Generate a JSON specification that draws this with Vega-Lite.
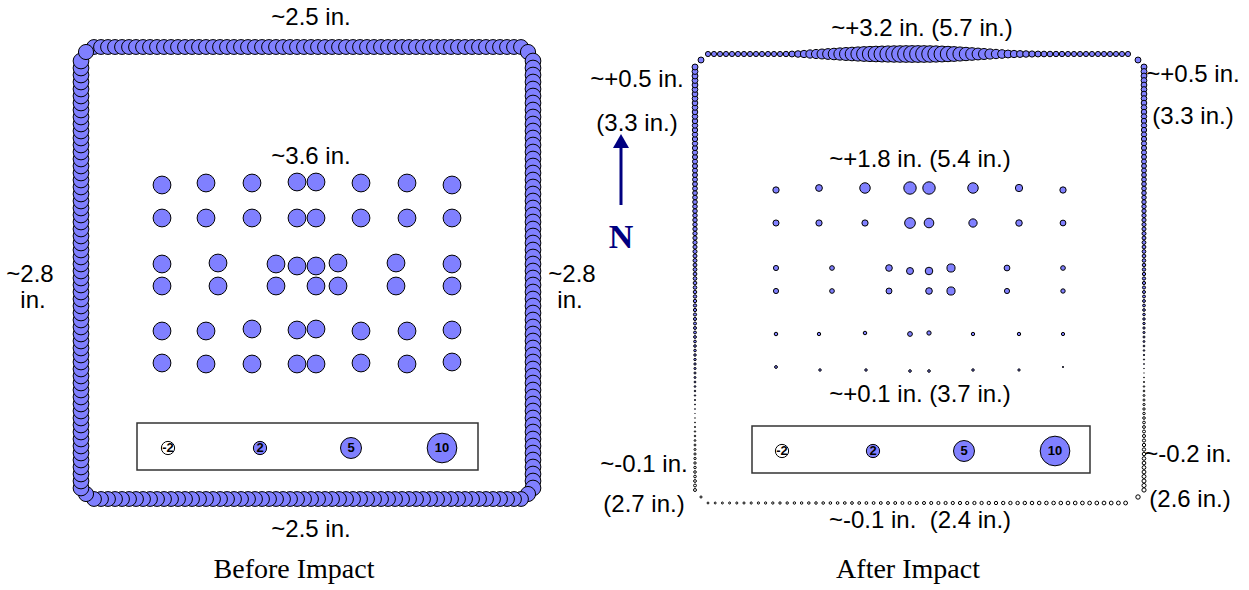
{
"$schema":"https://vega.github.io/schema/vega-lite/v6.json",
"width":1249,"height":590,"padding":0,
"autosize":{"type":"fit","contains":"padding"},
"background":"white",
"config":{"view":{"stroke":null}},
"datasets":{
"box":[{"x":137,"x2":478,"y":423,"y2":470},{"x":752,"x2":1090,"y":426,"y2":473}],
"pts":[
{"x":94,"y":47,"v":2.5},{"x":101,"y":47,"v":2.5},{"x":108,"y":47,"v":2.5},{"x":115,"y":47,"v":2.5},{"x":122,"y":47,"v":2.5},{"x":129,"y":47,"v":2.5},{"x":136,"y":47,"v":2.5},{"x":143,"y":47,"v":2.5},{"x":150,"y":47,"v":2.5},{"x":157,"y":47,"v":2.5},{"x":164,"y":47,"v":2.5},{"x":171,"y":47,"v":2.5},{"x":178,"y":47,"v":2.5},{"x":185,"y":47,"v":2.5},{"x":192,"y":47,"v":2.5},{"x":199,"y":47,"v":2.5},{"x":206,"y":47,"v":2.5},{"x":213,"y":47,"v":2.5},{"x":220,"y":47,"v":2.5},{"x":227,"y":47,"v":2.5},{"x":234,"y":47,"v":2.5},{"x":241,"y":47,"v":2.5},{"x":248,"y":47,"v":2.5},{"x":255,"y":47,"v":2.5},{"x":262,"y":47,"v":2.5},{"x":269,"y":47,"v":2.5},{"x":276,"y":47,"v":2.5},{"x":283,"y":47,"v":2.5},{"x":290,"y":47,"v":2.5},{"x":297,"y":47,"v":2.5},{"x":304,"y":47,"v":2.5},{"x":311,"y":47,"v":2.5},{"x":318,"y":47,"v":2.5},{"x":325,"y":47,"v":2.5},{"x":332,"y":47,"v":2.5},{"x":339,"y":47,"v":2.5},{"x":346,"y":47,"v":2.5},{"x":353,"y":47,"v":2.5},{"x":360,"y":47,"v":2.5},{"x":367,"y":47,"v":2.5},{"x":374,"y":47,"v":2.5},{"x":381,"y":47,"v":2.5},{"x":388,"y":47,"v":2.5},{"x":395,"y":47,"v":2.5},{"x":402,"y":47,"v":2.5},{"x":409,"y":47,"v":2.5},{"x":416,"y":47,"v":2.5},{"x":423,"y":47,"v":2.5},{"x":430,"y":47,"v":2.5},{"x":437,"y":47,"v":2.5},{"x":444,"y":47,"v":2.5},{"x":451,"y":47,"v":2.5},{"x":458,"y":47,"v":2.5},{"x":465,"y":47,"v":2.5},{"x":472,"y":47,"v":2.5},{"x":479,"y":47,"v":2.5},{"x":486,"y":47,"v":2.5},{"x":493,"y":47,"v":2.5},{"x":500,"y":47,"v":2.5},{"x":507,"y":47,"v":2.5},{"x":514,"y":47,"v":2.5},{"x":521,"y":47,"v":2.5},
{"x":528,"y":52,"v":2.6},
{"x":533,"y":61,"v":2.8},{"x":533,"y":68,"v":2.8},{"x":533,"y":75,"v":2.8},{"x":533,"y":82,"v":2.8},{"x":533,"y":89,"v":2.8},{"x":533,"y":96,"v":2.8},{"x":533,"y":103,"v":2.8},{"x":533,"y":110,"v":2.8},{"x":533,"y":117,"v":2.8},{"x":533,"y":124,"v":2.8},{"x":533,"y":131,"v":2.8},{"x":533,"y":138,"v":2.8},{"x":533,"y":145,"v":2.8},{"x":533,"y":152,"v":2.8},{"x":533,"y":159,"v":2.8},{"x":533,"y":166,"v":2.8},{"x":533,"y":173,"v":2.8},{"x":533,"y":180,"v":2.8},{"x":533,"y":187,"v":2.8},{"x":533,"y":194,"v":2.8},{"x":533,"y":201,"v":2.8},{"x":533,"y":208,"v":2.8},{"x":533,"y":215,"v":2.8},{"x":533,"y":222,"v":2.8},{"x":533,"y":229,"v":2.8},{"x":533,"y":236,"v":2.8},{"x":533,"y":243,"v":2.8},{"x":533,"y":250,"v":2.8},{"x":533,"y":257,"v":2.8},{"x":533,"y":264,"v":2.8},{"x":533,"y":271,"v":2.8},{"x":533,"y":278,"v":2.8},{"x":533,"y":285,"v":2.8},{"x":533,"y":292,"v":2.8},{"x":533,"y":299,"v":2.8},{"x":533,"y":306,"v":2.8},{"x":533,"y":313,"v":2.8},{"x":533,"y":320,"v":2.8},{"x":533,"y":327,"v":2.8},{"x":533,"y":334,"v":2.8},{"x":533,"y":341,"v":2.8},{"x":533,"y":348,"v":2.8},{"x":533,"y":355,"v":2.8},{"x":533,"y":362,"v":2.8},{"x":533,"y":369,"v":2.8},{"x":533,"y":376,"v":2.8},{"x":533,"y":383,"v":2.8},{"x":533,"y":390,"v":2.8},{"x":533,"y":397,"v":2.8},{"x":533,"y":404,"v":2.8},{"x":533,"y":411,"v":2.8},{"x":533,"y":418,"v":2.8},{"x":533,"y":425,"v":2.8},{"x":533,"y":432,"v":2.8},{"x":533,"y":439,"v":2.8},{"x":533,"y":446,"v":2.8},{"x":533,"y":453,"v":2.8},{"x":533,"y":460,"v":2.8},{"x":533,"y":467,"v":2.8},{"x":533,"y":474,"v":2.8},{"x":533,"y":481,"v":2.8},{"x":533,"y":488,"v":2.8},
{"x":528,"y":494,"v":2.6},
{"x":521,"y":499,"v":2.5},{"x":514,"y":499,"v":2.5},{"x":507,"y":499,"v":2.5},{"x":500,"y":499,"v":2.5},{"x":493,"y":499,"v":2.5},{"x":486,"y":499,"v":2.5},{"x":479,"y":499,"v":2.5},{"x":472,"y":499,"v":2.5},{"x":465,"y":499,"v":2.5},{"x":458,"y":499,"v":2.5},{"x":451,"y":499,"v":2.5},{"x":444,"y":499,"v":2.5},{"x":437,"y":499,"v":2.5},{"x":430,"y":499,"v":2.5},{"x":423,"y":499,"v":2.5},{"x":416,"y":499,"v":2.5},{"x":409,"y":499,"v":2.5},{"x":402,"y":499,"v":2.5},{"x":395,"y":499,"v":2.5},{"x":388,"y":499,"v":2.5},{"x":381,"y":499,"v":2.5},{"x":374,"y":499,"v":2.5},{"x":367,"y":499,"v":2.5},{"x":360,"y":499,"v":2.5},{"x":353,"y":499,"v":2.5},{"x":346,"y":499,"v":2.5},{"x":339,"y":499,"v":2.5},{"x":332,"y":499,"v":2.5},{"x":325,"y":499,"v":2.5},{"x":318,"y":499,"v":2.5},{"x":311,"y":499,"v":2.5},{"x":304,"y":499,"v":2.5},{"x":297,"y":499,"v":2.5},{"x":290,"y":499,"v":2.5},{"x":283,"y":499,"v":2.5},{"x":276,"y":499,"v":2.5},{"x":269,"y":499,"v":2.5},{"x":262,"y":499,"v":2.5},{"x":255,"y":499,"v":2.5},{"x":248,"y":499,"v":2.5},{"x":241,"y":499,"v":2.5},{"x":234,"y":499,"v":2.5},{"x":227,"y":499,"v":2.5},{"x":220,"y":499,"v":2.5},{"x":213,"y":499,"v":2.5},{"x":206,"y":499,"v":2.5},{"x":199,"y":499,"v":2.5},{"x":192,"y":499,"v":2.5},{"x":185,"y":499,"v":2.5},{"x":178,"y":499,"v":2.5},{"x":171,"y":499,"v":2.5},{"x":164,"y":499,"v":2.5},{"x":157,"y":499,"v":2.5},{"x":150,"y":499,"v":2.5},{"x":143,"y":499,"v":2.5},{"x":136,"y":499,"v":2.5},{"x":129,"y":499,"v":2.5},{"x":122,"y":499,"v":2.5},{"x":115,"y":499,"v":2.5},{"x":108,"y":499,"v":2.5},{"x":101,"y":499,"v":2.5},{"x":94,"y":499,"v":2.5},
{"x":86,"y":494,"v":2.6},
{"x":81,"y":488,"v":2.8},{"x":81,"y":481,"v":2.8},{"x":81,"y":474,"v":2.8},{"x":81,"y":467,"v":2.8},{"x":81,"y":460,"v":2.8},{"x":81,"y":453,"v":2.8},{"x":81,"y":446,"v":2.8},{"x":81,"y":439,"v":2.8},{"x":81,"y":432,"v":2.8},{"x":81,"y":425,"v":2.8},{"x":81,"y":418,"v":2.8},{"x":81,"y":411,"v":2.8},{"x":81,"y":404,"v":2.8},{"x":81,"y":397,"v":2.8},{"x":81,"y":390,"v":2.8},{"x":81,"y":383,"v":2.8},{"x":81,"y":376,"v":2.8},{"x":81,"y":369,"v":2.8},{"x":81,"y":362,"v":2.8},{"x":81,"y":355,"v":2.8},{"x":81,"y":348,"v":2.8},{"x":81,"y":341,"v":2.8},{"x":81,"y":334,"v":2.8},{"x":81,"y":327,"v":2.8},{"x":81,"y":320,"v":2.8},{"x":81,"y":313,"v":2.8},{"x":81,"y":306,"v":2.8},{"x":81,"y":299,"v":2.8},{"x":81,"y":292,"v":2.8},{"x":81,"y":285,"v":2.8},{"x":81,"y":278,"v":2.8},{"x":81,"y":271,"v":2.8},{"x":81,"y":264,"v":2.8},{"x":81,"y":257,"v":2.8},{"x":81,"y":250,"v":2.8},{"x":81,"y":243,"v":2.8},{"x":81,"y":236,"v":2.8},{"x":81,"y":229,"v":2.8},{"x":81,"y":222,"v":2.8},{"x":81,"y":215,"v":2.8},{"x":81,"y":208,"v":2.8},{"x":81,"y":201,"v":2.8},{"x":81,"y":194,"v":2.8},{"x":81,"y":187,"v":2.8},{"x":81,"y":180,"v":2.8},{"x":81,"y":173,"v":2.8},{"x":81,"y":166,"v":2.8},{"x":81,"y":159,"v":2.8},{"x":81,"y":152,"v":2.8},{"x":81,"y":145,"v":2.8},{"x":81,"y":138,"v":2.8},{"x":81,"y":131,"v":2.8},{"x":81,"y":124,"v":2.8},{"x":81,"y":117,"v":2.8},{"x":81,"y":110,"v":2.8},{"x":81,"y":103,"v":2.8},{"x":81,"y":96,"v":2.8},{"x":81,"y":89,"v":2.8},{"x":81,"y":82,"v":2.8},{"x":81,"y":75,"v":2.8},{"x":81,"y":68,"v":2.8},{"x":81,"y":61,"v":2.8},
{"x":86,"y":52,"v":2.6},
{"x":162,"y":185,"v":3.6},{"x":206,"y":183,"v":3.6},{"x":252,"y":183,"v":3.6},{"x":297,"y":182,"v":3.6},{"x":316,"y":182,"v":3.6},{"x":361,"y":183,"v":3.6},{"x":407,"y":183,"v":3.6},{"x":452,"y":185,"v":3.6},
{"x":162,"y":218,"v":3.6},{"x":206,"y":218,"v":3.6},{"x":252,"y":218,"v":3.6},{"x":297,"y":218,"v":3.6},{"x":316,"y":218,"v":3.6},{"x":361,"y":218,"v":3.6},{"x":407,"y":218,"v":3.6},{"x":452,"y":218,"v":3.6},
{"x":162,"y":264,"v":3.6},{"x":218,"y":263,"v":3.6},{"x":276,"y":264,"v":3.6},{"x":297,"y":266,"v":3.6},{"x":316,"y":266,"v":3.6},{"x":338,"y":263,"v":3.6},{"x":396,"y":263,"v":3.6},{"x":452,"y":264,"v":3.6},
{"x":162,"y":286,"v":3.6},{"x":218,"y":286,"v":3.6},{"x":276,"y":286,"v":3.6},{"x":316,"y":286,"v":3.6},{"x":338,"y":286,"v":3.6},{"x":396,"y":286,"v":3.6},{"x":452,"y":286,"v":3.6},
{"x":162,"y":331,"v":3.6},{"x":206,"y":331,"v":3.6},{"x":252,"y":329,"v":3.6},{"x":297,"y":330,"v":3.6},{"x":316,"y":329,"v":3.6},{"x":361,"y":331,"v":3.6},{"x":407,"y":331,"v":3.6},{"x":452,"y":330,"v":3.6},
{"x":162,"y":363,"v":3.6},{"x":206,"y":364,"v":3.6},{"x":252,"y":364,"v":3.6},{"x":297,"y":364,"v":3.6},{"x":316,"y":364,"v":3.6},{"x":361,"y":363,"v":3.6},{"x":407,"y":364,"v":3.6},{"x":452,"y":362,"v":3.6},
{"x":168,"y":448,"v":-2},{"x":260,"y":448,"v":2},{"x":351,"y":448,"v":5},{"x":442,"y":448,"v":10},
{"x":708,"y":54,"v":0.3},{"x":714,"y":54,"v":0.3},{"x":720,"y":54,"v":0.3},{"x":726,"y":54,"v":0.3},{"x":732,"y":54,"v":0.3},{"x":738,"y":54,"v":0.3},{"x":744,"y":54,"v":0.3},{"x":750,"y":54,"v":0.3},{"x":756,"y":54,"v":0.3},{"x":762,"y":54,"v":0.3},{"x":768,"y":54,"v":0.3},{"x":774,"y":54,"v":0.3},{"x":780,"y":54,"v":0.3},{"x":786,"y":54,"v":0.33},{"x":792,"y":54,"v":0.4},{"x":798,"y":54,"v":0.5},{"x":804,"y":54,"v":0.62},{"x":810,"y":54,"v":0.78},{"x":816,"y":54,"v":0.95},{"x":822,"y":54,"v":1.13},{"x":828,"y":54,"v":1.32},{"x":834,"y":54,"v":1.52},{"x":840,"y":54,"v":1.72},{"x":846,"y":54,"v":1.92},{"x":852,"y":54,"v":2.12},{"x":858,"y":54,"v":2.3},{"x":864,"y":54,"v":2.48},{"x":870,"y":54,"v":2.64},{"x":876,"y":54,"v":2.78},{"x":882,"y":54,"v":2.9},{"x":888,"y":54,"v":3.0},{"x":894,"y":54,"v":3.08},{"x":900,"y":54,"v":3.14},{"x":906,"y":54,"v":3.18},{"x":912,"y":54,"v":3.2},{"x":918,"y":54,"v":3.2},{"x":924,"y":54,"v":3.18},{"x":930,"y":54,"v":3.12},{"x":936,"y":54,"v":3.02},{"x":942,"y":54,"v":2.88},{"x":948,"y":54,"v":2.7},{"x":954,"y":54,"v":2.5},{"x":960,"y":54,"v":2.28},{"x":966,"y":54,"v":2.05},{"x":972,"y":54,"v":1.82},{"x":978,"y":54,"v":1.6},{"x":984,"y":54,"v":1.38},{"x":990,"y":54,"v":1.18},{"x":996,"y":54,"v":1.0},{"x":1002,"y":54,"v":0.85},{"x":1008,"y":54,"v":0.72},{"x":1014,"y":54,"v":0.62},{"x":1020,"y":54,"v":0.55},{"x":1026,"y":54,"v":0.49},{"x":1032,"y":54,"v":0.44},{"x":1038,"y":54,"v":0.4},{"x":1044,"y":54,"v":0.37},{"x":1050,"y":54,"v":0.35},{"x":1056,"y":54,"v":0.33},{"x":1062,"y":54,"v":0.32},{"x":1068,"y":54,"v":0.3},{"x":1074,"y":54,"v":0.3},{"x":1080,"y":54,"v":0.3},{"x":1086,"y":54,"v":0.3},{"x":1092,"y":54,"v":0.3},{"x":1098,"y":54,"v":0.3},{"x":1104,"y":54,"v":0.3},{"x":1110,"y":54,"v":0.3},{"x":1116,"y":54,"v":0.3},{"x":1122,"y":54,"v":0.3},{"x":1128,"y":54,"v":0.3},
{"x":1138,"y":60,"v":0.4},
{"x":1144,"y":67,"v":0.4},{"x":1144,"y":71.5,"v":0.394},{"x":1144,"y":76,"v":0.388},{"x":1144,"y":80.5,"v":0.382},{"x":1144,"y":85,"v":0.376},{"x":1144,"y":89.5,"v":0.371},{"x":1144,"y":94,"v":0.365},{"x":1144,"y":98.5,"v":0.359},{"x":1144,"y":103,"v":0.353},{"x":1144,"y":107.5,"v":0.347},{"x":1144,"y":112,"v":0.341},{"x":1144,"y":116.5,"v":0.335},{"x":1144,"y":121,"v":0.329},{"x":1144,"y":125.5,"v":0.323},{"x":1144,"y":130,"v":0.317},{"x":1144,"y":134.5,"v":0.311},{"x":1144,"y":139,"v":0.306},{"x":1144,"y":143.5,"v":0.3},{"x":1144,"y":148,"v":0.294},{"x":1144,"y":152.5,"v":0.288},{"x":1144,"y":157,"v":0.282},{"x":1144,"y":161.5,"v":0.276},{"x":1144,"y":166,"v":0.27},{"x":1144,"y":170.5,"v":0.264},{"x":1144,"y":175,"v":0.258},{"x":1144,"y":179.5,"v":0.252},{"x":1144,"y":184,"v":0.247},{"x":1144,"y":188.5,"v":0.241},{"x":1144,"y":193,"v":0.235},{"x":1144,"y":197.5,"v":0.229},{"x":1144,"y":202,"v":0.223},{"x":1144,"y":206.5,"v":0.217},{"x":1144,"y":211,"v":0.211},{"x":1144,"y":215.5,"v":0.205},{"x":1144,"y":220,"v":0.199},{"x":1144,"y":224.5,"v":0.193},{"x":1144,"y":229,"v":0.188},{"x":1144,"y":233.5,"v":0.182},{"x":1144,"y":238,"v":0.176},{"x":1144,"y":242.5,"v":0.17},{"x":1144,"y":247,"v":0.164},{"x":1144,"y":251.5,"v":0.158},{"x":1144,"y":256,"v":0.152},{"x":1144,"y":260.5,"v":0.146},{"x":1144,"y":265,"v":0.14},{"x":1144,"y":269.5,"v":0.134},{"x":1144,"y":274,"v":0.129},{"x":1144,"y":278.5,"v":0.123},{"x":1144,"y":283,"v":0.117},{"x":1144,"y":287.5,"v":0.111},{"x":1144,"y":292,"v":0.105},{"x":1144,"y":296.5,"v":0.099},{"x":1144,"y":301,"v":0.093},{"x":1144,"y":305.5,"v":0.087},{"x":1144,"y":310,"v":0.081},{"x":1144,"y":314.5,"v":0.075},{"x":1144,"y":319,"v":0.07},{"x":1144,"y":323.5,"v":0.064},{"x":1144,"y":328,"v":0.058},{"x":1144,"y":332.5,"v":0.052},{"x":1144,"y":337,"v":0.046},{"x":1144,"y":341.5,"v":0.04},{"x":1144,"y":346,"v":0.034},{"x":1144,"y":350.5,"v":0.028},{"x":1144,"y":355,"v":0.022},{"x":1144,"y":359.5,"v":0.016},{"x":1144,"y":364,"v":0.01},{"x":1144,"y":368.5,"v":0.005},{"x":1144,"y":373,"v":-0.002},{"x":1144,"y":377.5,"v":-0.009},{"x":1144,"y":382,"v":-0.017},{"x":1144,"y":386.5,"v":-0.025},{"x":1144,"y":391,"v":-0.032},{"x":1144,"y":395.5,"v":-0.04},{"x":1144,"y":400,"v":-0.047},{"x":1144,"y":404.5,"v":-0.055},{"x":1144,"y":409,"v":-0.063},{"x":1144,"y":413.5,"v":-0.07},{"x":1144,"y":418,"v":-0.078},{"x":1144,"y":422.5,"v":-0.086},{"x":1144,"y":427,"v":-0.093},{"x":1144,"y":431.5,"v":-0.101},{"x":1144,"y":436,"v":-0.108},{"x":1144,"y":440.5,"v":-0.116},{"x":1144,"y":445,"v":-0.124},{"x":1144,"y":449.5,"v":-0.131},{"x":1144,"y":454,"v":-0.139},{"x":1144,"y":458.5,"v":-0.147},{"x":1144,"y":463,"v":-0.154},{"x":1144,"y":467.5,"v":-0.162},{"x":1144,"y":472,"v":-0.169},{"x":1144,"y":476.5,"v":-0.177},{"x":1144,"y":481,"v":-0.185},{"x":1144,"y":485.5,"v":-0.192},{"x":1144,"y":490,"v":-0.2},
{"x":1138,"y":497,"v":-0.22},
{"x":1125.6,"y":503,"v":-0.169},{"x":1118.4,"y":503,"v":-0.167},{"x":1111.2,"y":503,"v":-0.165},{"x":1104,"y":503,"v":-0.163},{"x":1096.8,"y":503,"v":-0.16},{"x":1089.6,"y":503,"v":-0.158},{"x":1082.4,"y":503,"v":-0.156},{"x":1075.2,"y":503,"v":-0.154},{"x":1068,"y":503,"v":-0.152},{"x":1060.8,"y":503,"v":-0.149},{"x":1053.6,"y":503,"v":-0.147},{"x":1046.4,"y":503,"v":-0.145},{"x":1039.2,"y":503,"v":-0.143},{"x":1032,"y":503,"v":-0.14},{"x":1024.8,"y":503,"v":-0.138},{"x":1017.6,"y":503,"v":-0.136},{"x":1010.4,"y":503,"v":-0.134},{"x":1003.2,"y":503,"v":-0.131},{"x":996,"y":503,"v":-0.129},{"x":988.8,"y":503,"v":-0.127},{"x":981.6,"y":503,"v":-0.125},{"x":974.4,"y":503,"v":-0.123},{"x":967.2,"y":503,"v":-0.12},{"x":960,"y":503,"v":-0.118},{"x":952.8,"y":503,"v":-0.116},{"x":945.6,"y":503,"v":-0.114},{"x":938.4,"y":503,"v":-0.111},{"x":931.2,"y":503,"v":-0.109},{"x":924,"y":503,"v":-0.107},{"x":916.8,"y":503,"v":-0.105},{"x":909.6,"y":503,"v":-0.102},{"x":902.4,"y":503,"v":-0.1},{"x":895.2,"y":503,"v":-0.098},{"x":888,"y":503,"v":-0.096},{"x":880.8,"y":503,"v":-0.094},{"x":873.6,"y":503,"v":-0.091},{"x":866.4,"y":503,"v":-0.089},{"x":859.2,"y":503,"v":-0.087},{"x":852,"y":503,"v":-0.085},{"x":844.8,"y":503,"v":-0.082},{"x":837.6,"y":503,"v":-0.08},{"x":830.4,"y":503,"v":-0.078},{"x":823.2,"y":503,"v":-0.076},{"x":816,"y":503,"v":-0.073},{"x":808.8,"y":503,"v":-0.071},{"x":801.6,"y":503,"v":-0.069},{"x":794.4,"y":503,"v":-0.067},{"x":787.2,"y":503,"v":-0.065},{"x":780,"y":503,"v":-0.062},{"x":772.8,"y":503,"v":-0.06},{"x":765.6,"y":503,"v":-0.058},{"x":758.4,"y":503,"v":-0.056},{"x":751.2,"y":503,"v":-0.053},{"x":744,"y":503,"v":-0.051},{"x":736.8,"y":503,"v":-0.049},{"x":729.6,"y":503,"v":-0.047},{"x":722.4,"y":503,"v":-0.044},{"x":715.2,"y":503,"v":-0.042},{"x":708,"y":503,"v":-0.04},
{"x":701,"y":497,"v":-0.05},
{"x":695,"y":490,"v":-0.1},{"x":695,"y":485.5,"v":-0.094},{"x":695,"y":481,"v":-0.088},{"x":695,"y":476.5,"v":-0.082},{"x":695,"y":472,"v":-0.076},{"x":695,"y":467.5,"v":-0.07},{"x":695,"y":463,"v":-0.064},{"x":695,"y":458.5,"v":-0.058},{"x":695,"y":454,"v":-0.052},{"x":695,"y":449.5,"v":-0.046},{"x":695,"y":445,"v":-0.04},{"x":695,"y":440.5,"v":-0.034},{"x":695,"y":436,"v":-0.028},{"x":695,"y":431.5,"v":-0.022},{"x":695,"y":427,"v":-0.016},{"x":695,"y":422.5,"v":-0.01},{"x":695,"y":418,"v":-0.004},{"x":695,"y":413.5,"v":0.002},{"x":695,"y":409,"v":0.007},{"x":695,"y":404.5,"v":0.012},{"x":695,"y":400,"v":0.017},{"x":695,"y":395.5,"v":0.022},{"x":695,"y":391,"v":0.028},{"x":695,"y":386.5,"v":0.033},{"x":695,"y":382,"v":0.038},{"x":695,"y":377.5,"v":0.043},{"x":695,"y":373,"v":0.048},{"x":695,"y":368.5,"v":0.053},{"x":695,"y":364,"v":0.059},{"x":695,"y":359.5,"v":0.064},{"x":695,"y":355,"v":0.069},{"x":695,"y":350.5,"v":0.074},{"x":695,"y":346,"v":0.079},{"x":695,"y":341.5,"v":0.084},{"x":695,"y":337,"v":0.09},{"x":695,"y":332.5,"v":0.095},{"x":695,"y":328,"v":0.1},{"x":695,"y":323.5,"v":0.105},{"x":695,"y":319,"v":0.11},{"x":695,"y":314.5,"v":0.116},{"x":695,"y":310,"v":0.121},{"x":695,"y":305.5,"v":0.126},{"x":695,"y":301,"v":0.131},{"x":695,"y":296.5,"v":0.136},{"x":695,"y":292,"v":0.141},{"x":695,"y":287.5,"v":0.147},{"x":695,"y":283,"v":0.152},{"x":695,"y":278.5,"v":0.157},{"x":695,"y":274,"v":0.162},{"x":695,"y":269.5,"v":0.167},{"x":695,"y":265,"v":0.172},{"x":695,"y":260.5,"v":0.178},{"x":695,"y":256,"v":0.183},{"x":695,"y":251.5,"v":0.188},{"x":695,"y":247,"v":0.193},{"x":695,"y":242.5,"v":0.198},{"x":695,"y":238,"v":0.203},{"x":695,"y":233.5,"v":0.209},{"x":695,"y":229,"v":0.214},{"x":695,"y":224.5,"v":0.219},{"x":695,"y":220,"v":0.224},{"x":695,"y":215.5,"v":0.229},{"x":695,"y":211,"v":0.234},{"x":695,"y":206.5,"v":0.24},{"x":695,"y":202,"v":0.245},{"x":695,"y":197.5,"v":0.25},{"x":695,"y":193,"v":0.255},{"x":695,"y":188.5,"v":0.26},{"x":695,"y":184,"v":0.266},{"x":695,"y":179.5,"v":0.271},{"x":695,"y":175,"v":0.276},{"x":695,"y":170.5,"v":0.281},{"x":695,"y":166,"v":0.286},{"x":695,"y":161.5,"v":0.291},{"x":695,"y":157,"v":0.297},{"x":695,"y":152.5,"v":0.302},{"x":695,"y":148,"v":0.307},{"x":695,"y":143.5,"v":0.312},{"x":695,"y":139,"v":0.317},{"x":695,"y":134.5,"v":0.322},{"x":695,"y":130,"v":0.328},{"x":695,"y":125.5,"v":0.333},{"x":695,"y":121,"v":0.338},{"x":695,"y":116.5,"v":0.343},{"x":695,"y":112,"v":0.348},{"x":695,"y":107.5,"v":0.353},{"x":695,"y":103,"v":0.359},{"x":695,"y":98.5,"v":0.364},{"x":695,"y":94,"v":0.369},{"x":695,"y":89.5,"v":0.374},{"x":695,"y":85,"v":0.379},{"x":695,"y":80.5,"v":0.384},{"x":695,"y":76,"v":0.39},{"x":695,"y":71.5,"v":0.395},{"x":695,"y":67,"v":0.4},
{"x":701,"y":60,"v":0.4},
{"x":776,"y":190,"v":0.45},{"x":819,"y":188,"v":0.52},{"x":865,"y":188,"v":1.25},{"x":910,"y":188,"v":1.75},{"x":929,"y":188,"v":1.75},{"x":973,"y":188,"v":1.25},{"x":1019,"y":188,"v":0.6},{"x":1063,"y":190,"v":0.45},
{"x":776,"y":223,"v":0.42},{"x":819,"y":223,"v":0.44},{"x":865,"y":223,"v":0.44},{"x":910,"y":223,"v":1.3},{"x":929,"y":223,"v":1.05},{"x":973,"y":223,"v":0.78},{"x":1019,"y":223,"v":0.48},{"x":1063,"y":223,"v":0.38},
{"x":776,"y":268,"v":0.3},{"x":832,"y":268,"v":0.25},{"x":889,"y":268,"v":0.5},{"x":910,"y":271,"v":0.55},{"x":929,"y":271,"v":0.65},{"x":951,"y":268,"v":0.75},{"x":1007,"y":268,"v":0.38},{"x":1063,"y":268,"v":0.25},
{"x":776,"y":291,"v":0.3},{"x":832,"y":291,"v":0.25},{"x":889,"y":291,"v":0.4},{"x":929,"y":291,"v":0.5},{"x":951,"y":291,"v":0.75},{"x":1007,"y":291,"v":0.3},{"x":1063,"y":291,"v":0.22},
{"x":776,"y":334,"v":0.14},{"x":819,"y":334,"v":0.13},{"x":865,"y":333,"v":0.14},{"x":910,"y":334,"v":0.26},{"x":929,"y":333,"v":0.21},{"x":973,"y":334,"v":0.13},{"x":1019,"y":334,"v":0.13},{"x":1063,"y":334,"v":0.12},
{"x":776,"y":367,"v":0.09},{"x":820,"y":370,"v":0.07},{"x":866,"y":370,"v":0.07},{"x":910,"y":371,"v":0.08},{"x":929,"y":371,"v":0.08},{"x":973,"y":370,"v":0.07},{"x":1019,"y":370,"v":0.06},{"x":1063,"y":367,"v":0.02},
{"x":782,"y":451,"v":-2},{"x":873,"y":451,"v":2},{"x":964,"y":451,"v":5},{"x":1055,"y":451,"v":10}
],
"leg":[{"x":168,"y":448,"t":"-2"},{"x":260,"y":448,"t":"2"},{"x":351,"y":448,"t":"5"},{"x":442,"y":448,"t":"10"},{"x":782,"y":451,"t":"-2"},{"x":873,"y":451,"t":"2"},{"x":964,"y":451,"t":"5"},{"x":1055,"y":451,"t":"10"}],
"txt":[
{"x":311,"y":18,"t":"~2.5 in."},{"x":311,"y":157,"t":"~3.6 in."},{"x":30,"y":275,"t":"~2.8"},{"x":33,"y":301,"t":"in."},{"x":572,"y":275,"t":"~2.8"},{"x":570,"y":301,"t":"in."},{"x":311,"y":530,"t":"~2.5 in."},
{"x":922,"y":29,"t":"~+3.2 in. (5.7 in.)"},{"x":637,"y":80,"t":"~+0.5 in."},{"x":637,"y":124,"t":"(3.3 in.)"},{"x":1193,"y":75,"t":"~+0.5 in."},{"x":1193,"y":117,"t":"(3.3 in.)"},
{"x":920,"y":160,"t":"~+1.8 in. (5.4 in.)"},{"x":920,"y":395,"t":"~+0.1 in. (3.7 in.)"},{"x":644,"y":465,"t":"~-0.1 in."},{"x":644,"y":505,"t":"(2.7 in.)"},{"x":1188,"y":455,"t":"~-0.2 in."},{"x":1190,"y":500,"t":"(2.6 in.)"},{"x":920,"y":521,"t":"~-0.1 in.\u00a0 (2.4 in.)"}
],
"ttl":[{"x":294,"y":570,"t":"Before Impact"},{"x":908,"y":570,"t":"After Impact"}],
"arrow":[{"x":621,"y":205,"y2":148}],
"head":[{"x":621,"y":141}],
"north":[{"x":621,"y":238,"t":"N"}]
},
"encoding":{
"x":{"field":"x","type":"quantitative","scale":{"domain":[0,1249],"nice":false,"zero":false},"axis":null},
"y":{"field":"y","type":"quantitative","scale":{"domain":[0,590],"nice":false,"zero":false,"reverse":true},"axis":null}
},
"layer":[
{"data":{"name":"box"},"mark":{"type":"rect","fill":"white","stroke":"#333333","strokeWidth":1.5},"encoding":{"x2":{"field":"x2"},"y2":{"field":"y2"}}},
{"data":{"name":"pts"},"mark":{"type":"circle","opacity":1,"fillOpacity":1,"stroke":"black","strokeWidth":1},"encoding":{"size":{"field":"v","type":"quantitative","scale":{"domain":[-10,0,10],"range":[880,0,880]},"legend":null},"fill":{"condition":{"test":"datum.v < 0","value":"white"},"value":"#8080ff"}}},
{"data":{"name":"leg"},"mark":{"type":"text","font":"Liberation Sans","fontWeight":"bold","fontSize":13,"baseline":"middle","align":"center","color":"black"},"encoding":{"text":{"field":"t"}}},
{"data":{"name":"txt"},"mark":{"type":"text","font":"Liberation Sans","fontSize":24,"baseline":"middle","align":"center","color":"black"},"encoding":{"text":{"field":"t"}}},
{"data":{"name":"ttl"},"mark":{"type":"text","font":"Liberation Serif","fontSize":28,"baseline":"middle","align":"center","color":"black"},"encoding":{"text":{"field":"t"}}},
{"data":{"name":"arrow"},"mark":{"type":"rule","color":"#000080","strokeWidth":3},"encoding":{"y2":{"field":"y2"}}},
{"data":{"name":"head"},"mark":{"type":"point","shape":"triangle-up","filled":true,"color":"#000080","size":256,"opacity":1}},
{"data":{"name":"north"},"mark":{"type":"text","font":"Liberation Serif","fontWeight":"bold","fontSize":34,"baseline":"middle","align":"center","color":"#000080"},"encoding":{"text":{"field":"t"}}}
]
}
